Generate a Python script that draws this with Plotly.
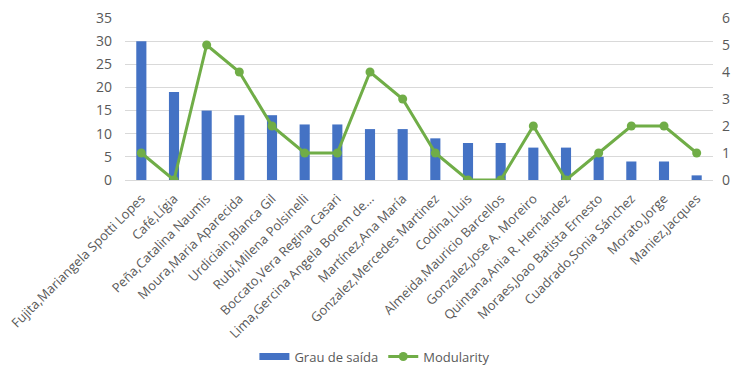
import plotly.graph_objects as go

authors = [
    "Fujita,Mariangela Spotti Lopes", "Café,Lígia", "Peña,Catalina Naumis",
    "Moura,Maria Aparecida", "Urdiciain,Blanca Gil", "Rubí,Milena Polsinelli",
    "Boccato,Vera Regina Casari", "Lima,Gercina Angela Borem de...",
    "Martínez,Ana María", "Gonzalez,Mercedes Martinez", "Codina,Lluis",
    "Almeida,Mauricio Barcellos", "Gonzalez,Jose A. Moreiro",
    "Quintana,Ania R. Hernández", "Moraes,Joao Batista Ernesto",
    "Cuadrado,Sonia Sánchez", "Morato,Jorge", "Maniez,Jacques",
]
grau_saida = [30, 19, 15, 14, 14, 12, 12, 11, 11, 9, 8, 8, 7, 7, 5, 4, 4, 1]
modularity = [1, 0, 5, 4, 2, 1, 1, 4, 3, 1, 0, 0, 2, 0, 1, 2, 2, 1]

left_ticks = [0, 5, 10, 15, 20, 25, 30, 35]
right_ticks = [0, 1, 2, 3, 4, 5, 6]

FONT = "Open Sans"
GRAY = "#595959"
BLUE = "#4472C4"
GREEN = "#70AD47"

fig = go.Figure()
fig.add_trace(go.Bar(
    x=authors, y=grau_saida, name="Grau de saída", showlegend=False,
    marker=dict(color=BLUE, line=dict(width=0)),
))
# legend entry drawn as a wide swatch for the bar series
fig.add_trace(go.Scatter(
    x=[None], y=[None], name="Grau de saída", mode="lines",
    line=dict(color=BLUE, width=7),
))
fig.add_trace(go.Scatter(
    x=authors, y=modularity, name="Modularity", yaxis="y2",
    mode="lines+markers",
    line=dict(color=GREEN, width=3),
    marker=dict(color=GREEN, size=9),
))

fig.update_layout(
    width=735, height=365,
    margin=dict(l=125, r=22, t=18, b=185, autoexpand=False),
    paper_bgcolor="white", plot_bgcolor="white",
    font=dict(family=FONT, color=GRAY, size=12),
    bargap=0.69,
    showlegend=True,
    legend=dict(orientation="h", x=0.425, xanchor="center", y=-1.09,
                yanchor="middle", font=dict(size=13, color=GRAY),
                itemwidth=30, tracegroupgap=0),
    xaxis=dict(
        automargin=False, range=[-0.5, len(authors) - 0.5],
        tickangle=-45, tickfont=dict(size=13, color=GRAY),
        showgrid=False, showline=True, linecolor="#D9D9D9", linewidth=1,
        ticks="", ticklabelstandoff=5,
    ),
    yaxis=dict(
        automargin=False,
        range=[0, 35], tickvals=left_ticks, showgrid=True,
        gridcolor="#D9D9D9", gridwidth=1, zeroline=False,
        tickfont=dict(size=14, color=GRAY), ticklabelstandoff=12,
    ),
    yaxis2=dict(
        automargin=False,
        range=[0, 6], tickvals=right_ticks, overlaying="y", side="right",
        showgrid=False, zeroline=False,
        tickfont=dict(size=14, color=GRAY), ticklabelstandoff=8,
    ),
)

fig.write_html("out.html")
